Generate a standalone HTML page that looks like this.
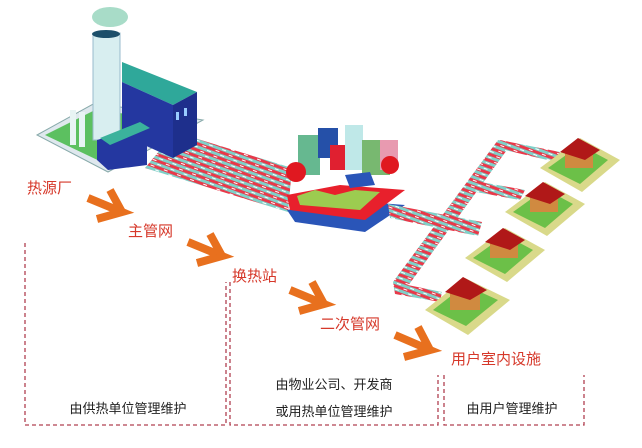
<!DOCTYPE html>
<html><head><meta charset="utf-8"><style>
html,body{margin:0;padding:0;background:#fff;}
svg{display:block}
text{font-family:"Liberation Sans","Noto Sans CJK SC",sans-serif;}
</style></head><body>
<svg width="642" height="448" viewBox="0 0 642 448" xmlns="http://www.w3.org/2000/svg">
<defs>
<pattern id="pp" width="14" height="6" patternUnits="userSpaceOnUse" patternTransform="rotate(20)">
<rect width="14" height="6" fill="#e8394a"/><rect y="3" width="14" height="3" fill="#7fd0c8"/><rect x="2" y="1" width="4" height="1" fill="#fff"/><rect x="8" y="4" width="4" height="1" fill="#fff"/>
</pattern>
</defs>
<!-- factory pipes -->
<polygon points="175,132 292,168 288,212 145,168" fill="url(#pp)"/>
<!-- factory plate -->
<polygon points="37,135 95,103 203,120 108,172" fill="#dfe8ee" stroke="#8aa" stroke-width="1"/>
<polygon points="45,135 95,110 190,122 108,165" fill="#5cc060"/>
<!-- chimney -->
<rect x="93" y="33" width="27" height="107" fill="#d8eef0" stroke="#9bc" />
<ellipse cx="106" cy="34" rx="14" ry="4" fill="#1d4f6a"/>
<ellipse cx="110" cy="17" rx="18" ry="10" fill="#a8dcc8"/>
<!-- building -->
<polygon points="122,62 197,92 173,105 122,82" fill="#2fa89a"/>
<polygon points="122,82 173,105 173,158 122,135" fill="#2437a0"/>
<polygon points="173,105 197,92 197,145 173,158" fill="#1e2f8c"/>
<rect x="176" y="112" width="3" height="8" fill="#9cf"/><rect x="184" y="108" width="3" height="8" fill="#9cf"/>
<polygon points="97,140 147,125 147,165 108,170 97,160" fill="#2437a0"/>
<polygon points="100,138 140,122 150,128 110,145" fill="#3bb29c"/>
<rect x="70" y="110" width="6" height="35" fill="#e8f4f4"/><rect x="79" y="112" width="6" height="35" fill="#e8f4f4"/>
<!-- city -->
<polygon points="287,210 340,200 405,205 365,232 295,222" fill="#2a55b8"/>
<polygon points="287,195 340,185 405,190 365,220 290,210" fill="#e8202c"/>
<polygon points="297,196 315,190 335,195 355,190 380,192 360,210 300,205" fill="#9ccc50"/>
<rect x="298" y="135" width="22" height="40" fill="#66b890"/>
<rect x="318" y="128" width="20" height="30" fill="#2550a8"/>
<rect x="330" y="145" width="15" height="25" fill="#e02030"/>
<rect x="345" y="125" width="18" height="45" fill="#bfe8e8"/>
<rect x="362" y="140" width="28" height="35" fill="#78b870"/>
<rect x="380" y="140" width="18" height="30" fill="#e89ab0"/>
<circle cx="296" cy="172" r="10" fill="#e01820"/>
<circle cx="390" cy="165" r="9" fill="#e01820"/>
<polygon points="345,175 370,172 375,185 350,188" fill="#2a55b8"/>
<!-- secondary pipes -->
<polygon points="388,204 482,222 478,236 390,218" fill="url(#pp)"/>
<polygon points="393,282 498,140 512,143 405,290" fill="url(#pp)"/>
<polygon points="500,140 560,152 556,162 505,150" fill="url(#pp)"/>
<polygon points="470,180 525,190 520,200 465,190" fill="url(#pp)"/>
<polygon points="393,282 442,292 440,302 395,294" fill="url(#pp)"/>
<!-- houses -->
<g>
<polygon points="540,168 580,138 620,160 582,192" fill="#d9d98a"/><polygon points="548,168 580,145 608,160 580,184" fill="#6cc048"/>
<rect x="565" y="150" width="28" height="18" fill="#d08a40"/><polygon points="560,152 578,138 600,150 585,160" fill="#b01818"/>
</g>
<g>
<polygon points="505,212 545,182 585,204 547,236" fill="#d9d98a"/><polygon points="513,212 545,189 573,204 545,228" fill="#6cc048"/>
<rect x="530" y="194" width="28" height="18" fill="#d08a40"/><polygon points="525,196 543,182 565,194 550,204" fill="#b01818"/>
</g>
<g>
<polygon points="465,258 505,228 545,250 507,282" fill="#d9d98a"/><polygon points="473,258 505,235 533,250 505,274" fill="#6cc048"/>
<rect x="490" y="240" width="28" height="18" fill="#d08a40"/><polygon points="485,242 503,228 525,240 510,250" fill="#b01818"/>
</g>
<g>
<polygon points="425,310 465,278 510,300 468,335" fill="#d9d98a"/><polygon points="433,310 465,285 498,300 466,326" fill="#6cc048"/>
<rect x="450" y="290" width="30" height="20" fill="#d08a40"/><polygon points="445,292 463,277 487,290 470,300" fill="#b01818"/>
</g>
<!-- arrows -->
<g fill="none" stroke="#e8701e" stroke-width="8" stroke-linejoin="miter">
<polyline points="88,198 122,212 97,219"/><line x1="110" y1="190" x2="122" y2="212"/>
<polyline points="188,242 222,256 197,263"/><line x1="210" y1="234" x2="222" y2="256"/>
<polyline points="290,290 324,304 299,311"/><line x1="312" y1="282" x2="324" y2="304"/>
<polyline points="395,335 430,350 404,357"/><line x1="418" y1="327" x2="430" y2="350"/>
</g>
<!-- labels -->
<g fill="#d6382a" font-size="15">
<text x="27" y="193">热源厂</text>
<text x="128" y="236">主管网</text>
<text x="232" y="281">换热站</text>
<text x="320" y="329">二次管网</text>
<text x="451" y="364">用户室内设施</text>
</g>
<!-- dashed boxes -->
<g fill="none" stroke="#b04050" stroke-width="1.3" stroke-dasharray="4,3">
<polyline points="25,243 25,425 226,425 226,282"/>
<polyline points="230,282 230,425 438,425 438,375"/>
<polyline points="444,375 444,425 584,425 584,375"/>
</g>
<g fill="#222" font-size="13" text-anchor="middle">
<text x="128" y="413">由供热单位管理维护</text>
<text x="334" y="389">由物业公司、开发商</text>
<text x="334" y="416">或用热单位管理维护</text>
<text x="512" y="413">由用户管理维护</text>
</g>
</svg>
</body></html>
